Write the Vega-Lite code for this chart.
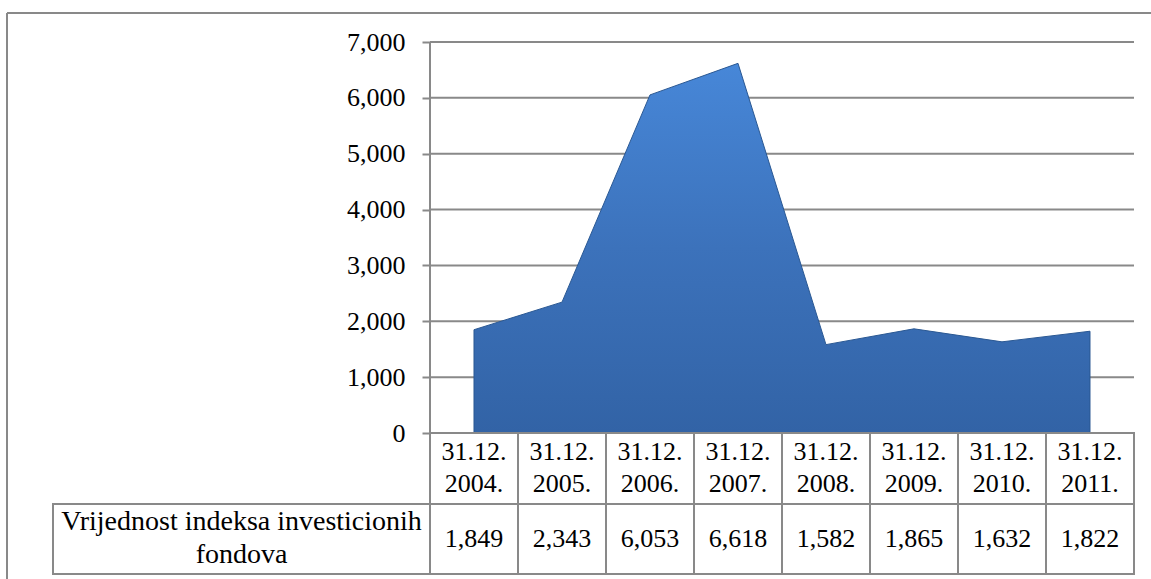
{
  "$schema": "https://vega.github.io/schema/vega-lite/v6.json",
  "autosize": "none",
  "padding": {"left": 7, "top": 13, "right": 0, "bottom": 0},
  "width": 1144,
  "height": 566,
  "background": "white",
  "config": {
    "view": {"stroke": null},
    "font": "Liberation Serif",
    "text": {"font": "Liberation Serif", "fontSize": 26, "color": "#000000"}
  },
  "datasets": {
    "main": [
      {"date": "31.12. 2004.", "year": 2004, "value": 1849},
      {"date": "31.12. 2005.", "year": 2005, "value": 2343},
      {"date": "31.12. 2006.", "year": 2006, "value": 6053},
      {"date": "31.12. 2007.", "year": 2007, "value": 6618},
      {"date": "31.12. 2008.", "year": 2008, "value": 1582},
      {"date": "31.12. 2009.", "year": 2009, "value": 1865},
      {"date": "31.12. 2010.", "year": 2010, "value": 1632},
      {"date": "31.12. 2011.", "year": 2011, "value": 1822}
    ],
    "grid": [
      {"v": 0}, {"v": 1000}, {"v": 2000}, {"v": 3000}, {"v": 4000}, {"v": 5000}, {"v": 6000}, {"v": 7000}
    ]
  },
  "layer": [
    {
      "data": {"name": "grid"},
      "mark": {"type": "rule", "stroke": "#898989", "strokeWidth": 2},
      "encoding": {
        "x": {"datum": 2003.5, "type": "quantitative", "scale": {"domain": [1998.6932, 2011.6932], "nice": false, "zero": false}, "axis": null},
        "x2": {"datum": 2011.5},
        "y": {
          "field": "v", "type": "quantitative",
          "scale": {"domain": [-2613.8, 7519.2], "nice": false, "zero": false},
          "axis": {
            "values": [0, 1000, 2000, 3000, 4000, 5000, 6000, 7000],
            "format": ",.0f",
            "title": null,
            "grid": false,
            "domain": false,
            "offset": -423,
            "tickColor": "#898989",
            "tickWidth": 2,
            "tickSize": 8,
            "labelPadding": 17,
            "labelFont": "Liberation Serif",
            "labelFontSize": 26,
            "labelColor": "#000000"
          }
        }
      }
    },
    {
      "data": {"name": "main"},
      "mark": {
        "type": "area",
        "stroke": "#2a5893",
        "strokeWidth": 1,
        "fill": {
          "gradient": "linear",
          "x1": 0, "y1": 0, "x2": 0, "y2": 1,
          "stops": [
            {"offset": 0, "color": "#4787d8"},
            {"offset": 0.5, "color": "#3c72bb"},
            {"offset": 1, "color": "#3263a6"}
          ]
        }
      },
      "encoding": {
        "x": {"field": "year", "type": "quantitative"},
        "y": {"field": "value", "type": "quantitative"},
        "y2": {"datum": 0}
      }
    },
    {
      "data": {"values": [{}]},
      "mark": {"type": "rule", "stroke": "#898989", "strokeWidth": 2},
      "encoding": {
        "x": {"datum": 2003.5, "type": "quantitative"},
        "y": {"datum": 0, "type": "quantitative"},
        "y2": {"datum": 7000}
      }
    },
    {
      "data": {"name": "main"},
      "transform": [
        {"calculate": "datum.year - 0.5", "as": "x0"},
        {"calculate": "datum.year + 0.5", "as": "x1"}
      ],
      "mark": {"type": "rect", "fill": "white", "stroke": "#898989", "strokeWidth": 2},
      "encoding": {
        "x": {"field": "x0", "type": "quantitative"},
        "x2": {"field": "x1"},
        "y": {"datum": 0, "type": "quantitative"},
        "y2": {"datum": -1271.1}
      }
    },
    {
      "data": {"name": "main"},
      "transform": [
        {"calculate": "datum.year - 0.5", "as": "x0"},
        {"calculate": "datum.year + 0.5", "as": "x1"}
      ],
      "mark": {"type": "rect", "fill": "white", "stroke": "#898989", "strokeWidth": 2},
      "encoding": {
        "x": {"field": "x0", "type": "quantitative"},
        "x2": {"field": "x1"},
        "y": {"datum": -1271.1, "type": "quantitative"},
        "y2": {"datum": -2524.3}
      }
    },
    {
      "data": {"values": [{}]},
      "mark": {"type": "rect", "fill": "white", "stroke": "#898989", "strokeWidth": 2},
      "encoding": {
        "x": {"datum": 1999.2159, "type": "quantitative"},
        "x2": {"datum": 2003.5},
        "y": {"datum": -1271.1, "type": "quantitative"},
        "y2": {"datum": -2524.3}
      }
    },
    {
      "data": {"name": "main"},
      "mark": {"type": "text", "lineBreak": " ", "lineHeight": 32, "baseline": "middle", "align": "center"},
      "encoding": {
        "x": {"field": "year", "type": "quantitative"},
        "y": {"datum": -340.2, "type": "quantitative"},
        "text": {"field": "date"}
      }
    },
    {
      "data": {"name": "main"},
      "mark": {"type": "text", "baseline": "middle", "align": "center"},
      "encoding": {
        "x": {"field": "year", "type": "quantitative"},
        "y": {"datum": -1897.7, "type": "quantitative"},
        "text": {"field": "value", "type": "quantitative", "format": ","}
      }
    },
    {
      "data": {"values": [{"series": "Vrijednost indeksa investicionih|fondova"}]},
      "mark": {"type": "text", "lineBreak": "|", "lineHeight": 33, "baseline": "middle", "align": "center", "fontSize": 28},
      "encoding": {
        "x": {"datum": 2001.3580, "type": "quantitative"},
        "y": {"datum": -1593.3, "type": "quantitative"},
        "text": {"field": "series"}
      }
    },
    {
      "data": {"values": [{}]},
      "mark": {"type": "rule", "stroke": "#898989", "strokeWidth": 2},
      "encoding": {
        "x": {"datum": 1998.6932, "type": "quantitative"},
        "x2": {"datum": 2011.6932},
        "y": {"datum": 7519.2, "type": "quantitative"}
      }
    },
    {
      "data": {"values": [{}]},
      "mark": {"type": "rule", "stroke": "#898989", "strokeWidth": 2},
      "encoding": {
        "x": {"datum": 1998.6932, "type": "quantitative"},
        "y": {"datum": 7519.2, "type": "quantitative"},
        "y2": {"datum": -2613.8}
      }
    }
  ]
}
